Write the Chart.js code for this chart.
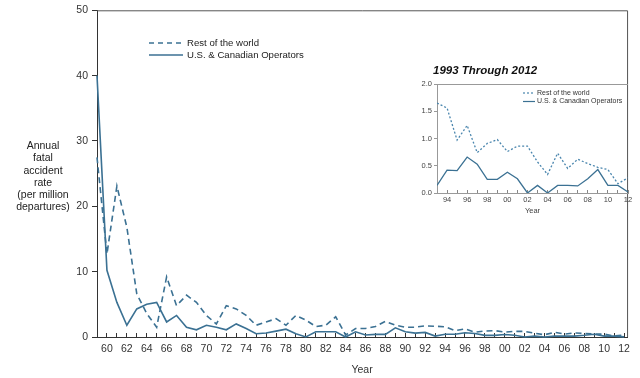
<!DOCTYPE html>
<html><head><meta charset="utf-8">
<script src="https://cdn.jsdelivr.net/npm/chart.js@4/dist/chart.umd.min.js"></script>
<style>
html,body{margin:0;padding:0;background:#fff;}
#wrap{position:relative;width:640px;height:378px;overflow:hidden;}
#main{position:absolute;left:0;top:0;}
#inset{position:absolute;left:395px;top:55px;}
.ytitle{position:absolute;left:0;width:86px;top:139px;text-align:center;font:10.5px 'Liberation Sans',Arial,sans-serif;line-height:12.3px;color:#222;}
.ititle{position:absolute;left:433px;top:64px;font:italic bold 11.5px 'Liberation Sans',Arial,sans-serif;color:#111;}
</style></head>
<body><div id="wrap">
<canvas id="main" width="640" height="378"></canvas>
<canvas id="inset" width="245" height="165"></canvas>
<div class="ytitle">Annual<br>fatal<br>accident<br>rate<br>(per million<br>departures)</div>
<div class="ititle">1993 Through 2012</div>
</div>
<script>
const years = [1959,1960,1961,1962,1963,1964,1965,1966,1967,1968,1969,1970,1971,1972,1973,1974,1975,1976,1977,1978,1979,1980,1981,1982,1983,1984,1985,1986,1987,1988,1989,1990,1991,1992,1993,1994,1995,1996,1997,1998,1999,2000,2001,2002,2003,2004,2005,2006,2007,2008,2009,2010,2011,2012];
const usCanada = [40,10.2,5.3,1.8,4.3,5.0,5.3,2.3,3.3,1.5,1.1,1.8,1.5,1.1,2.0,1.3,0.5,0.6,0.9,1.2,0.5,0.0,0.8,0.8,0.8,0.0,0.8,0.3,0.4,0.4,1.4,0.8,0.6,0.7,0.14,0.42,0.41,0.66,0.53,0.25,0.25,0.38,0.26,0.0,0.14,0.0,0.14,0.14,0.13,0.26,0.43,0.14,0.14,0.02];
const restOfWorld = [27.5,12.7,23.1,16.8,6.6,3.6,1.5,9.2,4.8,6.4,5.3,3.3,2.0,4.8,4.3,3.3,1.8,2.3,2.8,1.8,3.3,2.6,1.6,1.8,3.1,0.3,1.3,1.3,1.6,2.4,1.8,1.5,1.5,1.7,1.65,1.56,0.97,1.24,0.74,0.91,0.98,0.76,0.86,0.86,0.57,0.34,0.73,0.45,0.62,0.54,0.47,0.43,0.17,0.28];
const insetStartYear = 1993;
const mainYTicks = [0,10,20,30,40,50];
const insetYTicks = [0,0.5,1.0,1.5,2.0];
const seriesNames = ['Rest of the world','U.S. & Canadian Operators'];

const FONT = "'Liberation Sans', Arial, sans-serif";
const LINE = '#3b7193';
const LINE_LIGHT = '#4a86ae';

function pts(vals, ys){ return ys.map((y,i)=>({x:y,y:vals[i]})); }

const mainFrame = {
  id:'mainFrame',
  afterDraw(chart){
    const {ctx, chartArea:a} = chart;
    ctx.save();
    ctx.strokeStyle = '#555'; ctx.lineWidth = 1;
    ctx.beginPath();
    ctx.moveTo(a.left, a.top+0.5); ctx.lineTo(a.right+0.5, a.top+0.5); ctx.lineTo(a.right+0.5, a.bottom);
    ctx.stroke();
    // legend
    ctx.strokeStyle = LINE; ctx.lineWidth = 1.6;
    ctx.setLineDash([5,4]);
    ctx.beginPath(); ctx.moveTo(149,43); ctx.lineTo(183,43); ctx.stroke();
    ctx.setLineDash([]);
    ctx.beginPath(); ctx.moveTo(149,55); ctx.lineTo(183,55); ctx.stroke();
    ctx.fillStyle = '#222'; ctx.font = "9.6px " + FONT; ctx.textBaseline = 'middle';
    ctx.fillText(seriesNames[0], 187, 43);
    ctx.fillText(seriesNames[1], 187, 55);
    ctx.restore();
  }
};

new Chart(document.getElementById('main'), {
  type:'line',
  data:{datasets:[
    {label:seriesNames[0], data:pts(restOfWorld, years), borderColor:LINE, borderWidth:1.6, borderDash:[6,4], pointRadius:0, tension:0, fill:false},
    {label:seriesNames[1], data:pts(usCanada, years), borderColor:LINE, borderWidth:1.6, pointRadius:0, tension:0, fill:false}
  ]},
  options:{
    responsive:false, animation:false, clip:false,
    layout:{padding:{left:0,right:12,top:9,bottom:0}},
    plugins:{legend:{display:false}, tooltip:{enabled:false}},
    scales:{
      x:{type:'linear', min:1959, max:2012.3,
        afterBuildTicks:s=>{ s.ticks = years.map(v=>({value:v})); },
        afterFit:s=>{ s.height = 41; },
        grid:{drawOnChartArea:false, tickLength:-4, color:'#333', lineWidth:1},
        border:{color:'#333', width:1},
        ticks:{autoSkip:false, maxRotation:0, minRotation:0, padding:10, color:'#333', font:{size:10.5, family:FONT},
          callback:v => (v % 2 === 0) ? String(v).slice(2) : ''},
        title:{display:true, text:'Year', color:'#333', font:{size:10.5, family:FONT}, padding:{top:0,bottom:2}}
      },
      y:{min:0, max:50,
        afterBuildTicks:s=>{ s.ticks = mainYTicks.map(v=>({value:v})); },
        afterFit:s=>{ s.width = 97; },
        grid:{drawOnChartArea:false, tickLength:5, color:'#333'},
        border:{color:'#333', width:1},
        ticks:{padding:4, color:'#333', font:{size:10.5, family:FONT}}
      }
    }
  },
  plugins:[mainFrame]
});

const iYears = years.filter(y=>y>=insetStartYear);
const iStart = years.indexOf(insetStartYear);

const insetFrame = {
  id:'insetFrame',
  afterDraw(chart){
    const {ctx, chartArea:a} = chart;
    ctx.save();
    ctx.strokeStyle = '#999'; ctx.lineWidth = 1;
    ctx.beginPath(); ctx.moveTo(a.left, a.top+0.5); ctx.lineTo(a.right, a.top+0.5); ctx.stroke();
    ctx.lineWidth = 1.2;
    ctx.strokeStyle = LINE_LIGHT; ctx.setLineDash([2,2]);
    ctx.beginPath(); ctx.moveTo(128,38); ctx.lineTo(140,38); ctx.stroke();
    ctx.setLineDash([]); ctx.strokeStyle = LINE;
    ctx.beginPath(); ctx.moveTo(128,46.5); ctx.lineTo(140,46.5); ctx.stroke();
    ctx.fillStyle = '#333'; ctx.font = "7px " + FONT; ctx.textBaseline = 'middle';
    ctx.fillText(seriesNames[0], 142, 38);
    ctx.fillText(seriesNames[1], 142, 46.5);
    ctx.restore();
  }
};

new Chart(document.getElementById('inset'), {
  type:'line',
  data:{datasets:[
    {label:seriesNames[0], data:pts(restOfWorld.slice(iStart), iYears), borderColor:LINE_LIGHT, borderWidth:1.3, borderDash:[2,2], pointRadius:0, tension:0, fill:false},
    {label:seriesNames[1], data:pts(usCanada.slice(iStart), iYears), borderColor:LINE, borderWidth:1.3, pointRadius:0, tension:0, fill:false}
  ]},
  options:{
    responsive:false, animation:false,
    layout:{padding:{left:0,right:12,top:29,bottom:0}},
    plugins:{legend:{display:false}, tooltip:{enabled:false}},
    scales:{
      x:{type:'linear', min:1993, max:2012,
        afterBuildTicks:s=>{ s.ticks = iYears.map(v=>({value:v})); },
        afterFit:s=>{ s.height = 27; },
        grid:{drawOnChartArea:false, tickLength:-3, color:'#888'},
        border:{color:'#999', width:1},
        ticks:{autoSkip:false, maxRotation:0, minRotation:0, padding:5, color:'#444', font:{size:7.5, family:FONT},
          callback:v => (v % 2 === 0) ? String(v).slice(2) : ''},
        title:{display:true, text:'Year', color:'#444', font:{size:7.5, family:FONT}, padding:{top:0,bottom:5}}
      },
      y:{min:0, max:2,
        afterBuildTicks:s=>{ s.ticks = insetYTicks.map(v=>({value:v})); },
        afterFit:s=>{ s.width = 42; },
        grid:{drawOnChartArea:false, tickLength:3, color:'#999'},
        border:{color:'#999', width:1},
        ticks:{padding:2, color:'#444', font:{size:7.5, family:FONT}, callback:v=>Number(v).toFixed(1)}
      }
    }
  },
  plugins:[insetFrame]
});
</script>
</body></html>
